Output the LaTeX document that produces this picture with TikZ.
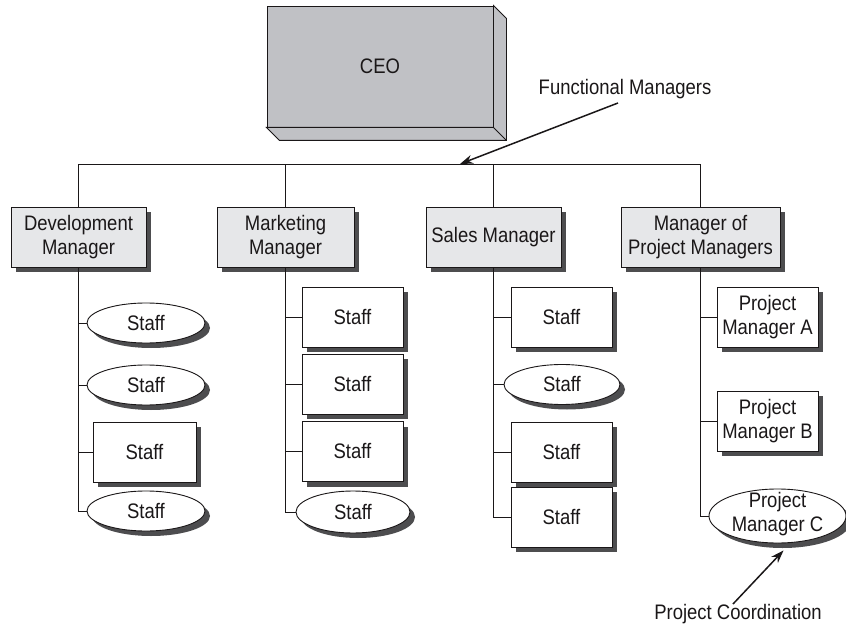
\documentclass[tikz,border=0pt]{standalone}
\usepackage{fontspec}
\setmainfont{Liberation Sans}[FakeStretch=0.88]
\usetikzlibrary{shapes, arrows, arrows.meta, shadows}
\definecolor{ceogray}{HTML}{C0C1C5}
\definecolor{mgrgray}{HTML}{E6E7E9}
\definecolor{shade}{HTML}{4D4D4F}
\definecolor{ink}{HTML}{1A1718}

\begin{document}
\begin{tikzpicture}[x=1pt, y=-1pt,
	every node/.style={font=\fontsize{21}{24}\selectfont, text=ink, align=center, inner sep=0pt},
	chart/.style={draw=ink, line width=0.9pt, fill=white, drop shadow={shadow xshift=5pt, shadow yshift=-5pt, fill=shade, opacity=1}},
	mgr/.style={chart, fill=mgrgray, minimum height=60pt},
	staffbox/.style={chart, minimum width=101pt, minimum height=60pt},
	staffell/.style={chart, ellipse, minimum width=116pt, minimum height=40pt},
	link/.style={draw=ink, line width=0.8pt},
	call/.style={->, >={Stealth[length=13pt, width=9pt]}, line width=1.5pt, draw=ink}]
	\useasboundingbox (0,0) rectangle (846,628);

	% top of the chart
	\node [draw=ink, line width=0.9pt, fill=ceogray, minimum width=226pt, minimum height=121pt] (ceo) at (380,66.5) {CEO};
	\filldraw [fill=ceogray, draw=ink, line width=0.9pt] (ceo.north east) -- ++(13,13) -- ([shift={(13,13)}]ceo.south east) -- ([shift={(13,13)}]ceo.south west) -- (ceo.south west) -- (ceo.south east) -- cycle;
	\draw [draw=ink, line width=0.9pt] (ceo.south east) -- ([shift={(13,13)}]ceo.south east);

	\node [mgr, minimum width=135pt] (dev) at (78.5,237) {Development\\Manager};
	\node [mgr, minimum width=137pt] (mkt) at (285.5,237) {Marketing\\Manager};
	\node [mgr, minimum width=135pt] (sales) at (493.5,237) {Sales Manager};
	\node [mgr, minimum width=159pt] (pm) at (700.5,237) {Manager of\\Project Managers};

	% staff
	\node [staffell, minimum width=118pt] (d1) at (146,323) {Staff};
	\node [staffell, minimum width=118pt] (d2) at (146,385) {Staff};
	\node [staffbox, minimum width=103pt] (d3) at (144.5,452) {Staff};
	\node [staffell, minimum width=118pt] (d4) at (146,511) {Staff};

	\node [staffbox] (m1) at (352.5,317) {Staff};
	\node [staffbox] (m2) at (352.5,384) {Staff};
	\node [staffbox] (m3) at (352.5,451.5) {Staff};
	\node [staffell, minimum width=114pt, minimum height=42pt] (m4) at (353,512) {Staff};

	\node [staffbox] (s1) at (561.5,317) {Staff};
	\node [staffell] (s2) at (562,384.5) {Staff};
	\node [staffbox] (s3) at (561.5,452) {Staff};
	\node [staffbox] (s4) at (561.5,517) {Staff};

	\node [staffbox] (pa) at (767.5,317) {Project\\Manager A};
	\node [staffbox] (pb) at (767.5,421) {Project\\Manager B};
	\node [staffell, minimum width=137pt, minimum height=54pt] (pc) at (777.5,516) {\smash{\makebox[0pt]{\raisebox{-4pt}{\begin{tabular}{@{}c@{}}Project\\Manager C\end{tabular}}}}};

	% callouts
	\node (fm) at (625,89) {Functional Managers};
	\node (pcl) at (738,614) {Project Coordination};
	\coordinate (bus) at (0,164);
	\coordinate (fmtip) at (460,164);

	% lines
	\draw [link] (dev.north) |- (bus -| pm.north) -- (pm.north);
	\foreach \m in {mkt, sales}
		\draw [link] (\m.north) -- (\m.north |- bus);

	\draw [link] (dev.south) |- (d4.west);
	\foreach \s in {d1, d2, d3}
		\draw [link] (dev.south |- \s.west) -- (\s.west);
	\draw [link] (mkt.south) |- (m4.west);
	\foreach \s in {m1, m2, m3}
		\draw [link] (mkt.south |- \s.west) -- (\s.west);
	\draw [link] (sales.south) |- (s4.west);
	\foreach \s in {s1, s2, s3}
		\draw [link] (sales.south |- \s.west) -- (\s.west);
	\draw [link] (pm.south) |- (pc.west);
	\foreach \s in {pa, pb}
		\draw [link] (pm.south |- \s.west) -- (\s.west);

	\draw [call] ([shift={(-7,4)}]fm.south) -- (fmtip);
	\draw [call] ([xshift=-5pt]pcl.north) -- ([shift={(6,7)}]pc.south);
\end{tikzpicture}
\end{document}
